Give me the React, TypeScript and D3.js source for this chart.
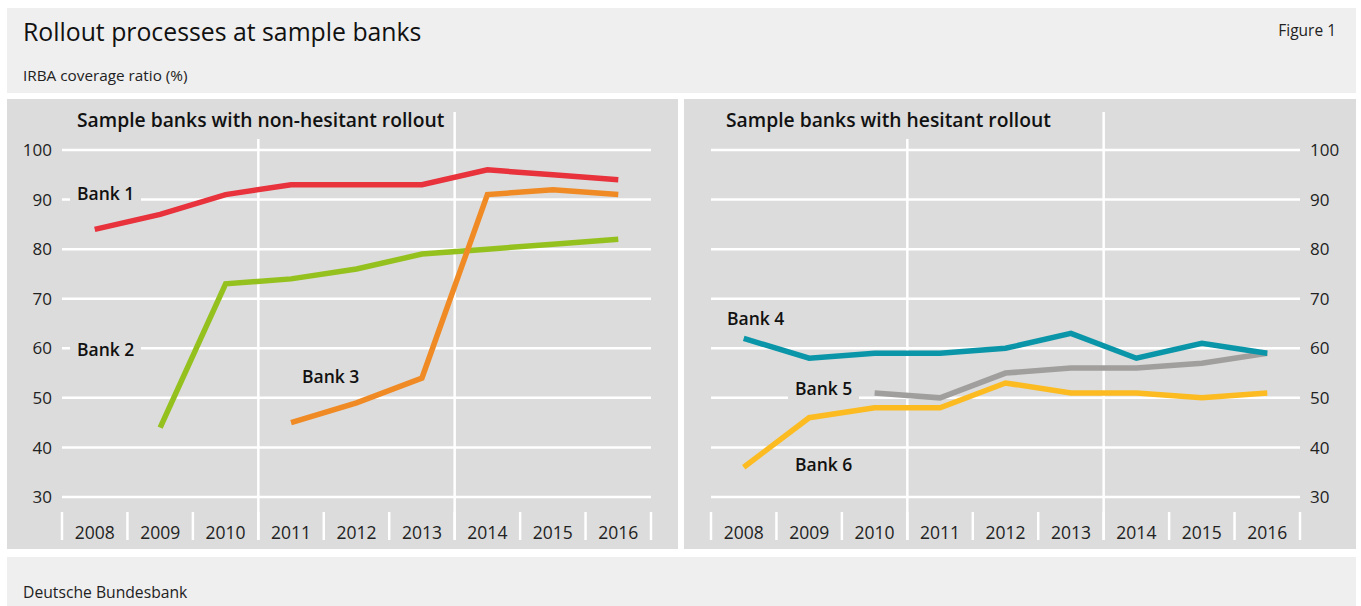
import React from "react";
import * as d3 from "d3";

const years = ["2008", "2009", "2010", "2011", "2012", "2013", "2014", "2015", "2016"];
const yTicks = [30, 40, 50, 60, 70, 80, 90, 100];

const bank1: (number | null)[] = [84, 87, 91, 93, 93, 93, 96, 95, 94];
const bank2: (number | null)[] = [null, 44, 73, 74, 76, 79, 80, 81, 82];
const bank3: (number | null)[] = [null, null, null, 45, 49, 54, 91, 92, 91];
const bank4: (number | null)[] = [62, 58, 59, 59, 60, 63, 58, 61, 59];
const bank5: (number | null)[] = [null, null, 51, 50, 55, 56, 56, 57, 59];
const bank6: (number | null)[] = [36, 46, 48, 48, 53, 51, 51, 50, 51];

const FONT = "'Open Sans', 'Noto Sans', sans-serif";
const PANEL_BG = "#dcdcdc";
const BOX_BG = "#efefef";

type Series = { name: string; values: (number | null)[]; color: string };
type Label = { text: string; x: number; y: number; bg?: boolean };

function Panel({
  x0, x1, gx0, gx1, title, titleX, series, labels, axisRight, vlineYears,
}: {
  x0: number; x1: number; gx0: number; gx1: number; title: string; titleX: number;
  series: Series[]; labels: Label[]; axisRight: boolean; vlineYears: string[];
}) {
  const x = d3.scaleBand<string>().domain(years).range([gx0, gx1]);
  const y = d3.scaleLinear().domain([30, 100]).range([497, 150]);
  const line = d3
    .line<number | null>()
    .defined((d) => d !== null)
    .x((_, i) => (x(years[i]) as number) + x.bandwidth() / 2)
    .y((d) => y(d as number));
  const top = 99;
  const bottom = 549;
  const boundaries = years.map((yr) => x(yr) as number).concat([gx1]);
  return (
    <g>
      <rect x={x0} y={top} width={x1 - x0} height={bottom - top} fill={PANEL_BG} />
      {yTicks.map((t) => (
        <line key={t} x1={gx0} x2={gx1} y1={y(t)} y2={y(t)} stroke="#fff" strokeWidth={2.5} />
      ))}
      {boundaries.map((b, i) => (
        <line key={i} x1={b} x2={b} y1={512} y2={540} stroke="#fff" strokeWidth={2.5} />
      ))}
      {vlineYears.map((yr, i) => (
        <line
          key={yr}
          x1={x(yr) as number}
          x2={x(yr) as number}
          y1={i === 0 ? 139 : 112}
          y2={540}
          stroke="#fff"
          strokeWidth={2.5}
        />
      ))}
      {yTicks.map((t) => (
        <text
          key={t}
          x={axisRight ? gx1 + 10 : gx0 - 10}
          y={y(t)}
          dy="0.36em"
          textAnchor={axisRight ? "start" : "end"}
          fontSize={17}
          fill="#222"
          fontFamily={FONT}
        >
          {t}
        </text>
      ))}
      {years.map((yr) => (
        <text
          key={yr}
          x={(x(yr) as number) + x.bandwidth() / 2}
          y={539}
          textAnchor="middle"
          fontSize={17.5}
          fill="#222"
          fontFamily={FONT}
        >
          {yr}
        </text>
      ))}
      <text x={titleX} y={127} fontSize={19.3} fontWeight={600} fill="#111" fontFamily={FONT}>
        {title}
      </text>
      {series.map((s) => (
        <path
          key={s.name}
          d={line(s.values) || ""}
          fill="none"
          stroke={s.color}
          strokeWidth={5.5}
          strokeLinejoin="miter"
          strokeLinecap="butt"
        />
      ))}
      {labels.map((l) => (
        <g key={l.text}>
          {l.bg && <rect x={l.x - 7} y={l.y - 15} width={71} height={22} fill={PANEL_BG} />}
          <text x={l.x} y={l.y} fontSize={17.5} fontWeight={600} fill="#111" fontFamily={FONT}>
            {l.text}
          </text>
        </g>
      ))}
    </g>
  );
}

export default function App() {
  return (
    <svg
      width={1361}
      height={606}
      style={{ position: "absolute", left: 0, top: 0, background: "#fff" }}
    >
      <rect x={0} y={0} width={1361} height={606} fill="#fff" />
      <rect x={7} y={8} width={1349} height={85} fill={BOX_BG} />
      <text x={23} y={41} fontSize={24.8} fill="#111" fontFamily={FONT}>
        Rollout processes at sample banks
      </text>
      <text x={1336} y={36} fontSize={15.5} textAnchor="end" fill="#222" fontFamily={FONT}>
        Figure 1
      </text>
      <text x={23} y={81} fontSize={15.3} fill="#222" fontFamily={FONT}>
        IRBA coverage ratio (%)
      </text>
      <Panel
        x0={7}
        x1={678}
        gx0={62}
        gx1={651}
        title="Sample banks with non-hesitant rollout"
        titleX={77}
        axisRight={false}
        vlineYears={["2011", "2014"]}
        series={[
          { name: "Bank 1", values: bank1, color: "#e8323c" },
          { name: "Bank 2", values: bank2, color: "#95c11f" },
          { name: "Bank 3", values: bank3, color: "#f08a24" },
        ]}
        labels={[
          { text: "Bank 1", x: 77, y: 200, bg: true },
          { text: "Bank 2", x: 77, y: 356, bg: true },
          { text: "Bank 3", x: 302, y: 383 },
        ]}
      />
      <Panel
        x0={684}
        x1={1356}
        gx0={711}
        gx1={1300}
        title="Sample banks with hesitant rollout"
        titleX={726}
        axisRight={true}
        vlineYears={["2011", "2014"]}
        series={[
          { name: "Bank 5", values: bank5, color: "#a09f9d" },
          { name: "Bank 4", values: bank4, color: "#0a96a8" },
          { name: "Bank 6", values: bank6, color: "#fbbb21" },
        ]}
        labels={[
          { text: "Bank 4", x: 727, y: 325 },
          { text: "Bank 5", x: 795, y: 395, bg: true },
          { text: "Bank 6", x: 795, y: 471 },
        ]}
      />
      <rect x={7} y={557} width={1349} height={49} fill={BOX_BG} />
      <text x={23} y={598} fontSize={15.7} fill="#222" fontFamily={FONT}>
        Deutsche Bundesbank
      </text>
    </svg>
  );
}
